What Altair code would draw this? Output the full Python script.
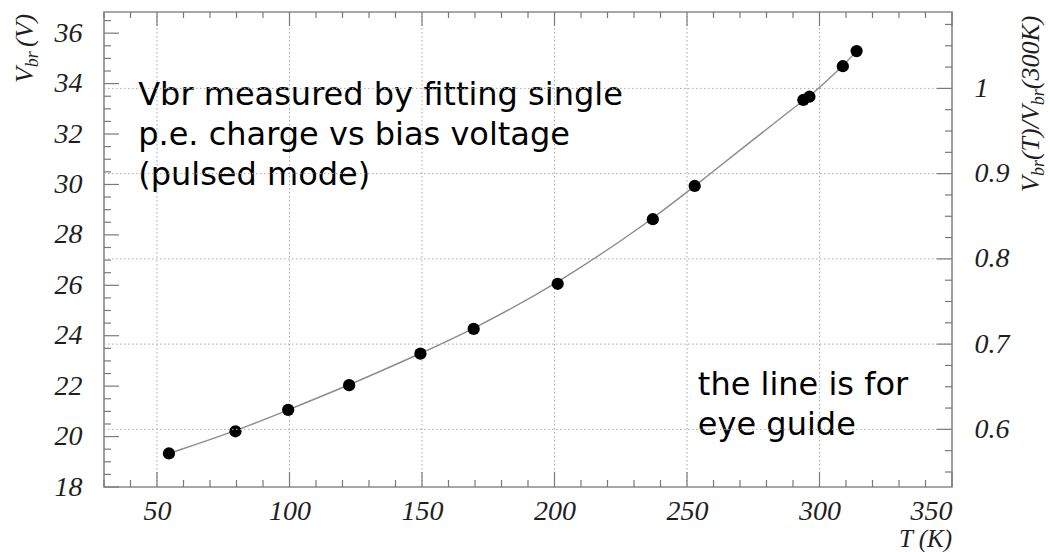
import altair as alt
import pandas as pd

# Breakdown voltage vs temperature (single p.e. charge fit, pulsed mode)
temperature_k = [54.5, 79.6, 99.5, 122.5, 149.4, 169.5, 201.2, 237.1, 252.9, 293.9, 296.2, 308.8, 314.0]
vbr_volts = [19.33, 20.21, 21.06, 22.04, 23.29, 24.27, 26.06, 28.62, 29.94, 33.35, 33.48, 34.69, 35.29]

# Reference breakdown voltage at 300 K used for the right-hand scale
VBR_300K = 33.81

t_domain = [30, 350]
v_domain = [18, 36.84]
r_domain = [v_domain[0] / VBR_300K, v_domain[1] / VBR_300K]

t_labels = [50, 100, 150, 200, 250, 300, 350]
t_grid = [50, 100, 150, 200, 250, 300]
v_labels = [18, 20, 22, 24, 26, 28, 30, 32, 34, 36]
r_labels = [0.6, 0.7, 0.8, 0.9, 1.0]

# Minor tick positions
t_minor = [t for t in range(30, 351, 10) if t % 50]
v_minor = [18 + 0.5 * i for i in range(38) if i % 4]
r_minor = [round(0.55 + 0.025 * i, 3) for i in range(22) if i % 4 != 2]

W, H = 848, 475
SERIF = "Liberation Serif"
SANS = "DejaVu Sans"
INK = "#1e1e1e"
FRAME = "#8a8a8a"
GRID = "#a8a8a8"
TICK = "#7a7a7a"

meas = pd.DataFrame({"T": temperature_k, "V": vbr_volts})
one = pd.DataFrame({"k": [0]})

x_scale = alt.Scale(domain=t_domain, nice=False, zero=False)
v_scale = alt.Scale(domain=v_domain, nice=False, zero=False)
r_scale = alt.Scale(domain=r_domain, nice=False, zero=False)

label_style = dict(labelFont=SERIF, labelFontStyle="italic", labelFontSize=28,
                   labelColor=INK, ticks=False, domain=False, grid=False, title=None)

# Every layer sharing a scale carries the same axis so the merged axis stays on
x_axis = alt.Axis(values=t_labels, format="d", labelPadding=10, **label_style)
v_axis = alt.Axis(values=v_labels, format="d", labelPadding=22, **label_style)
r_axis = alt.Axis(orient="right", values=r_labels, format=".1~f", labelPadding=22, **label_style)


def X(field):
    return alt.X(field, scale=x_scale, axis=x_axis)


def YV(field):
    return alt.Y(field, scale=v_scale, axis=v_axis)


def YR(field):
    return alt.Y(field, scale=r_scale, axis=r_axis)


# Vertical dotted grid
vgrid = alt.Chart(pd.DataFrame({"T": t_grid})).mark_rule(
    color=GRID, strokeDash=[1.5, 2.5], strokeWidth=1
).encode(x=X("T:Q"), y=alt.value(0), y2=alt.value(H))

# Eye-guide line and measured points
guide = alt.Chart(meas).mark_line(color="#8c8c8c", strokeWidth=1.4, interpolate="basis").encode(
    x=X("T:Q"), y=YV("V:Q"))
points = alt.Chart(meas).mark_circle(color="black", opacity=1, size=150).encode(
    x=X("T:Q"), y=YV("V:Q"))


def x_ticks(values, length):
    src = alt.Chart(pd.DataFrame({"T": values}))
    bottom = src.mark_rule(color=TICK, strokeWidth=1.2).encode(
        x=X("T:Q"), y=alt.value(H), y2=alt.value(H - length))
    top = src.mark_rule(color=TICK, strokeWidth=1.2).encode(
        x=X("T:Q"), y=alt.value(0), y2=alt.value(length - 1))
    return [bottom, top]


def v_ticks(values, length):
    return alt.Chart(pd.DataFrame({"V": values})).mark_rule(color=TICK, strokeWidth=1.2).encode(
        y=YV("V:Q"), x=alt.value(0), x2=alt.value(length))


def r_ticks(values, length):
    return alt.Chart(pd.DataFrame({"R": values})).mark_rule(color=TICK, strokeWidth=1.2).encode(
        y=YR("R:Q"), x=alt.value(W - length), x2=alt.value(W))


def note(text, t, v):
    return alt.Chart(one).mark_text(
        align="left", baseline="alphabetic", font=SANS, fontSize=32,
        lineHeight=40, lineBreak="\n", color="black"
    ).encode(
        x=alt.datum(t, scale=x_scale, axis=x_axis),
        y=alt.datum(v, scale=v_scale, axis=v_axis),
        text=alt.value(text),
    )


notes = [
    note("Vbr measured by fitting single\np.e. charge vs bias voltage\n(pulsed mode)", 42.9, 33.15),
    note("the line is for\neye guide", 254.1, 21.64),
]


def title_piece(text, x, y, size, angle=270, align="left"):
    return alt.Chart(one).mark_text(
        align=align, baseline="alphabetic", font=SERIF, fontStyle="italic",
        fontSize=size, angle=angle, color=INK
    ).encode(x=alt.value(x), y=alt.value(y), text=alt.value(text))


# Left title: V_br (V)
left_title = [
    title_piece("V", -71, 71, 26),
    title_piece("br", -66, 55.2, 18),
    title_piece("(V)", -71, 35, 26),
]

# Right title: V_br(T)/V_br(300K)
right_title = [
    title_piece("V", 935, 180, 26),
    title_piece("br", 940, 164.1, 18),
    title_piece("(T)/V", 935, 148.1, 26),
    title_piece("br", 940, 93.2, 18),
    title_piece("(300K)", 935, 77.2, 26),
]

x_title = title_piece("T (K)", W, 535, 25, angle=0, align="right")

left_group = alt.layer(
    vgrid, guide, points,
    *x_ticks(t_labels, 15), *x_ticks(t_minor, 7),
    v_ticks(v_labels, 15), v_ticks(v_minor, 7),
    *notes, *left_title, *right_title, x_title,
)

# Horizontal dotted grid on the normalised scale, with the right axis
hgrid = alt.Chart(pd.DataFrame({"R": r_labels})).mark_rule(
    color=GRID, strokeDash=[1.5, 2.5], strokeWidth=1
).encode(y=YR("R:Q"), x=alt.value(0), x2=alt.value(W))

right_group = alt.layer(hgrid, r_ticks(r_labels, 15), r_ticks(r_minor, 7))

chart = alt.layer(left_group, right_group).resolve_scale(y="independent").properties(
    width=W, height=H,
    autosize=alt.AutoSizeParams(type="none"),
    padding={"left": 104, "top": 12, "right": 98, "bottom": 65},
    background="white",
).configure_view(stroke=FRAME, strokeWidth=1.6)

chart.save("out.html", embed_options={"renderer": "svg", "actions": False})
